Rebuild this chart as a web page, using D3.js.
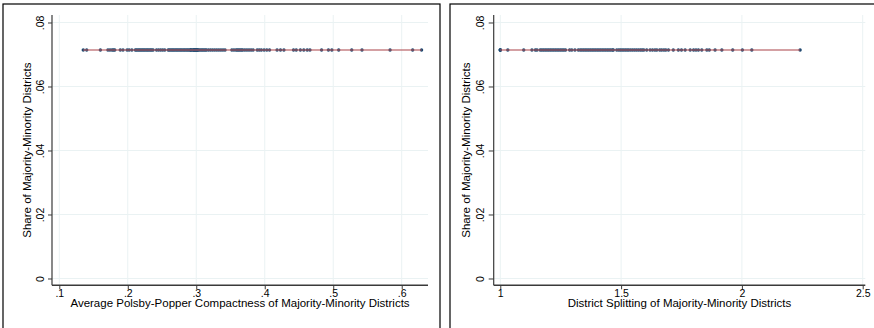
<!DOCTYPE html>
<html>
<head>
<meta charset="utf-8">
<script src="https://cdn.jsdelivr.net/npm/d3@7/dist/d3.min.js"></script>
<style>
  html, body { margin: 0; padding: 0; background: #fff; }
  svg { display: block; font-family: "Liberation Sans", Arial, Helvetica, sans-serif; }
</style>
</head>
<body>
<svg id="chart" width="874" height="328"></svg>
<script>
// Share of majority-minority districts (identical for every plan)
const majorityMinorityShare = 0.0714;

// Average Polsby-Popper compactness of majority-minority districts, one value per plan
const compactness = [
  0.135, 0.140, 0.160,
  0.171, 0.174, 0.177, 0.179, 0.181,
  0.189, 0.193,
  0.199, 0.202, 0.206,
  0.211, 0.213, 0.215, 0.217, 0.219, 0.221, 0.223, 0.225, 0.227, 0.229, 0.231, 0.233, 0.235, 0.237,
  0.242, 0.245, 0.248, 0.251, 0.254,
  0.259, 0.261, 0.263, 0.265, 0.267, 0.269, 0.271, 0.273, 0.275, 0.277, 0.279, 0.281, 0.283, 0.285,
  0.287, 0.289, 0.291, 0.292, 0.293, 0.295, 0.296, 0.297, 0.298, 0.299, 0.300, 0.301, 0.302, 0.303,
  0.305, 0.307, 0.309, 0.311, 0.313, 0.315, 0.318, 0.321, 0.324, 0.327, 0.330, 0.333, 0.336, 0.339, 0.342,
  0.352, 0.355, 0.358, 0.360, 0.362, 0.364, 0.366, 0.368, 0.371, 0.374, 0.377, 0.380, 0.383,
  0.389, 0.392, 0.395, 0.399, 0.403, 0.407,
  0.418, 0.423, 0.428,
  0.442, 0.446, 0.452, 0.457, 0.462, 0.466,
  0.483, 0.493, 0.498, 0.508, 0.527, 0.542, 0.583, 0.616, 0.629
];

// District splitting of majority-minority districts, one value per plan
const splitting = [
  1.000, 1.000, 1.000, 1.031, 1.097, 1.131, 1.145, 1.152,
  1.165, 1.172, 1.179, 1.186, 1.193, 1.200, 1.207, 1.214, 1.221, 1.228, 1.235, 1.242, 1.249, 1.256, 1.263, 1.270,
  1.287, 1.296, 1.309, 1.323, 1.331,
  1.338, 1.345, 1.352, 1.359, 1.366, 1.373, 1.380, 1.387, 1.394, 1.401, 1.408, 1.415, 1.422, 1.429,
  1.436, 1.443, 1.450, 1.457, 1.464, 1.468,
  1.482, 1.490, 1.497, 1.504, 1.511, 1.518, 1.525, 1.532, 1.540, 1.548, 1.556, 1.564, 1.572, 1.580,
  1.587, 1.594, 1.606,
  1.620, 1.630, 1.640, 1.648, 1.660, 1.668, 1.677, 1.685, 1.696,
  1.716, 1.737, 1.750, 1.765,
  1.786, 1.800, 1.810, 1.820, 1.834, 1.855, 1.865, 1.889, 1.917, 1.962, 2.002, 2.041, 2.241
];

// Tick values
const yTicks = [0, 0.02, 0.04, 0.06, 0.08];
const compactnessTicks = [0.1, 0.2, 0.3, 0.4, 0.5, 0.6];
const splittingTicks = [1, 1.5, 2, 2.5];

const yTitle = "Share of Majority-Minority Districts";
const compactnessTitle = "Average Polsby-Popper Compactness of Majority-Minority Districts";
const splittingTitle = "District Splitting of Majority-Minority Districts";

// Stata-style number labels: drop the leading zero
const stataFmt = v => {
  const s = d3.format("")(+v.toFixed(4));
  return s.replace(/^0\./, ".").replace(/^-0\./, "-.");
};

const svg = d3.select("#chart");

const colors = {
  frame: "#000",
  axis: "#3a3a3a",
  grid: "#eaf2f3",
  marker: "#1a476f",
  fit: "#b3565c",
  text: "#000"
};

const tickFont = 10.5;
const titleFont = 11.5;

function drawPanel(cfg) {
  const g = svg.append("g");

  // panel frame (open at the bottom edge of the page)
  g.append("rect")
    .attr("x", cfg.frame[0]).attr("y", cfg.frame[1])
    .attr("width", cfg.frame[2]).attr("height", cfg.frame[3])
    .attr("fill", "#fff").attr("stroke", colors.frame).attr("stroke-width", 1.2);

  const x = d3.scaleLinear().domain(cfg.xDomain).range([cfg.left, cfg.right]);
  const y = d3.scaleLinear().domain([-0.002125, 0.08234]).range([285.3, 15]);

  // grid lines
  g.append("g").selectAll("line").data(yTicks).join("line")
    .attr("x1", cfg.left).attr("x2", cfg.right)
    .attr("y1", d => y(d)).attr("y2", d => y(d))
    .attr("stroke", colors.grid).attr("stroke-width", 1);
  g.append("g").selectAll("line").data(cfg.xTicks).join("line")
    .attr("x1", d => x(d)).attr("x2", d => x(d))
    .attr("y1", y.range()[1]).attr("y2", y.range()[0])
    .attr("stroke", colors.grid).attr("stroke-width", 1);

  // y axis with vertical tick labels
  const yAxis = g.append("g")
    .attr("transform", `translate(${cfg.left},0)`)
    .call(d3.axisLeft(y).tickValues(yTicks).tickFormat(stataFmt).tickSize(cfg.yTick));
  yAxis.attr("font-family", null);
  yAxis.select(".domain").attr("stroke", colors.axis).attr("stroke-width", 1.2)
    .attr("d", `M0,${y.range()[1]}V${y.range()[0]}`);
  yAxis.selectAll(".tick line").attr("stroke", colors.axis).attr("stroke-width", 1);
  yAxis.selectAll(".tick text")
    .attr("font-size", tickFont).attr("fill", colors.text)
    .attr("x", 0).attr("y", 0).attr("dy", 0)
    .attr("text-anchor", "middle")
    .attr("transform", `translate(${-cfg.yLabelOffset},0) rotate(-90)`);

  // x axis
  const xAxis = g.append("g")
    .attr("transform", "translate(0,285.3)")
    .call(d3.axisBottom(x).tickValues(cfg.xTicks).tickFormat(cfg.fmt).tickSize(4).tickPadding(0.5));
  xAxis.attr("font-family", null);
  xAxis.select(".domain").attr("stroke", colors.axis).attr("stroke-width", 1.4)
    .attr("d", `M${cfg.left},0H${cfg.right}`);
  xAxis.selectAll(".tick line").attr("stroke", colors.axis).attr("stroke-width", 1);
  xAxis.selectAll(".tick text").attr("font-size", tickFont).attr("fill", colors.text);

  // axis titles
  g.append("text")
    .attr("x", (cfg.left + cfg.right) / 2).attr("y", 306.5)
    .attr("text-anchor", "middle").attr("font-size", titleFont).attr("fill", colors.text)
    .text(cfg.xTitle);
  g.append("text")
    .attr("transform", `translate(${cfg.left - cfg.yTitleOffset},${(y.range()[0] + y.range()[1]) / 2}) rotate(-90)`)
    .attr("text-anchor", "middle").attr("font-size", titleFont).attr("fill", colors.text)
    .text(yTitle);

  // scatter markers
  g.append("g").selectAll("circle").data(cfg.values).join("circle")
    .attr("cx", d => x(d)).attr("cy", y(majorityMinorityShare))
    .attr("r", 1.7).attr("fill", colors.marker);

  // linear fit across the observed range
  const ext = d3.extent(cfg.values);
  g.append("line")
    .attr("x1", x(ext[0])).attr("x2", x(ext[1]))
    .attr("y1", y(majorityMinorityShare)).attr("y2", y(majorityMinorityShare))
    .attr("stroke", colors.fit).attr("stroke-width", 1.3).attr("stroke-opacity", 0.75);
}

drawPanel({
  frame: [3, 4, 437, 340],
  left: 52, right: 428,
  yTick: 4, yLabelOffset: 8.5, yTitleOffset: 21.5,
  xDomain: [0.08934, 0.6384],
  xTicks: compactnessTicks,
  fmt: stataFmt,
  xTitle: compactnessTitle,
  values: compactness
});

drawPanel({
  frame: [450, 4, 440, 340],
  left: 493.7, right: 865.3,
  yTick: 5, yLabelOffset: 10, yTitleOffset: 24,
  xDomain: [0.9727, 2.5108],
  xTicks: splittingTicks,
  fmt: d => d3.format("")(d),
  xTitle: splittingTitle,
  values: splitting
});
</script>
</body>
</html>
